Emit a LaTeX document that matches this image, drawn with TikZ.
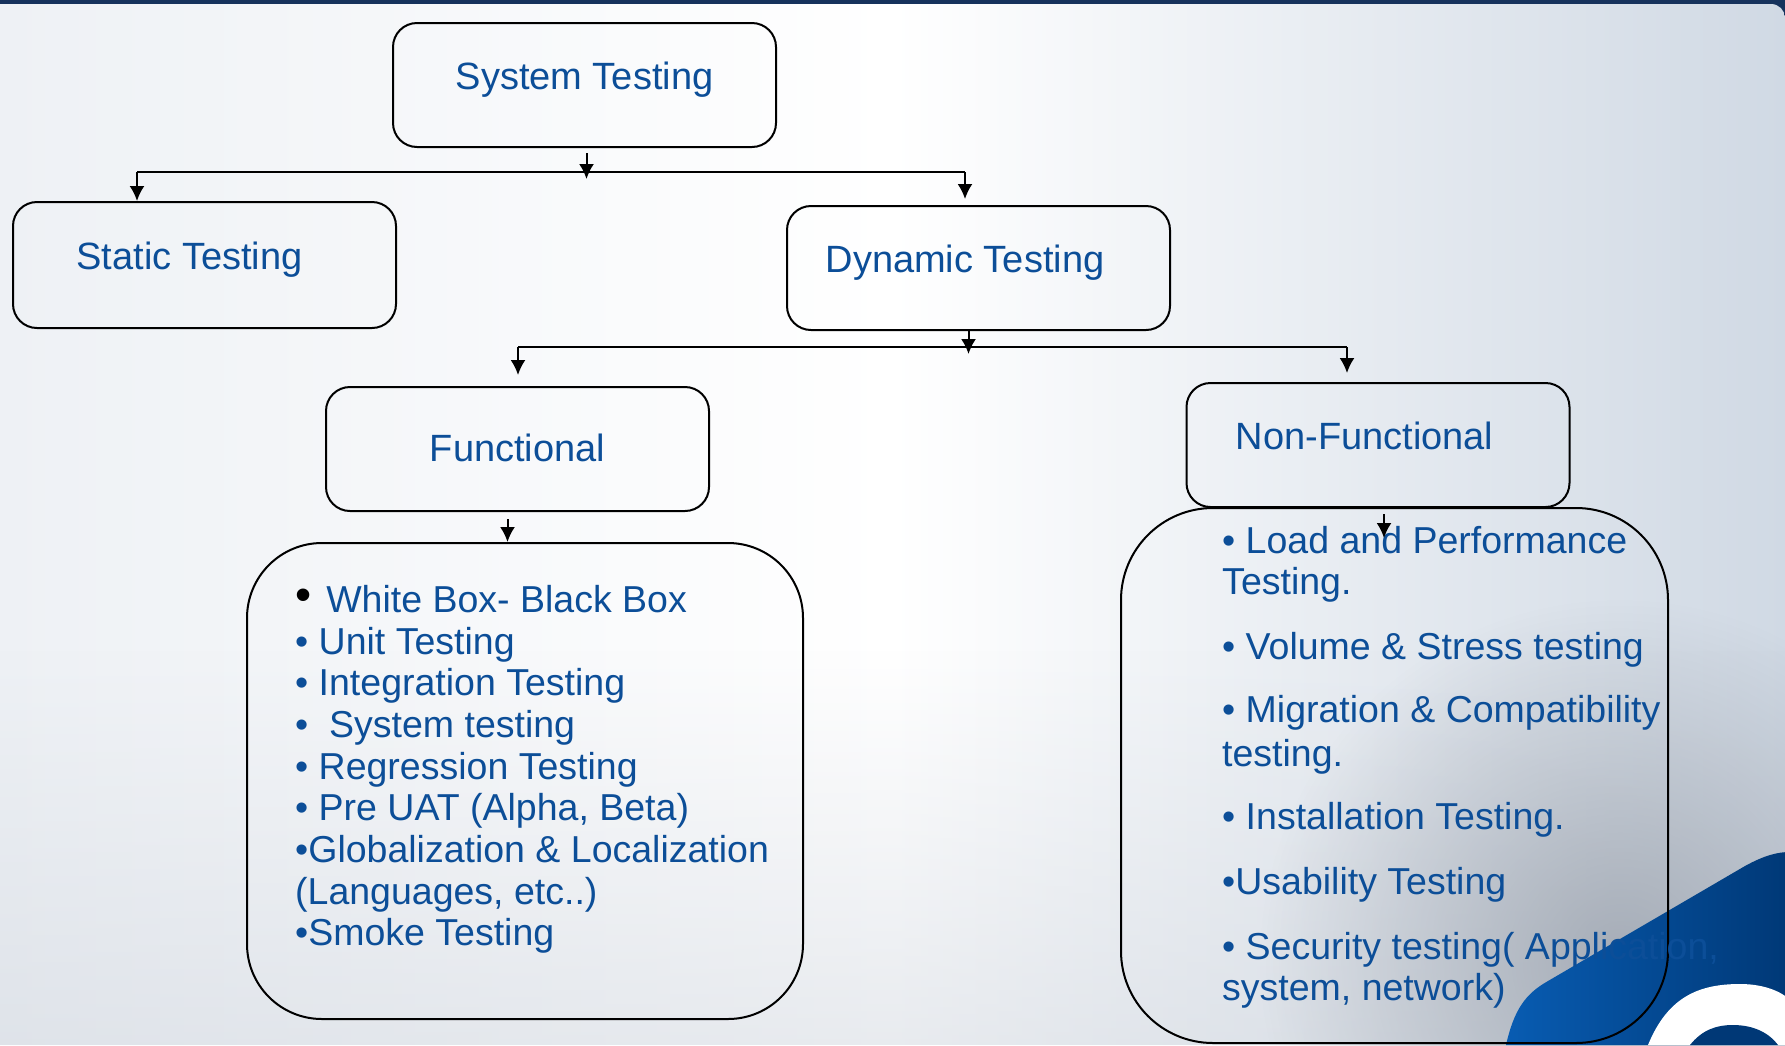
\documentclass[tikz,border=0pt]{standalone}
\usepackage{fontspec}
\setmainfont{Liberation Sans}
\usetikzlibrary{arrows.meta,fadings}

\definecolor{txtblue}{RGB}{12,78,152}
\definecolor{panelleft}{RGB}{238,241,245}
\definecolor{panelright}{RGB}{208,217,228}
\definecolor{panelbottom}{RGB}{205,211,220}
\definecolor{panelspot}{RGB}{150,157,168}
\definecolor{topbar}{RGB}{22,50,92}
\definecolor{logoblue}{RGB}{8,92,178}
\definecolor{logodark}{RGB}{0,56,118}
\tikzfading[name=softspot, inner color=transparent!25, outer color=transparent!100]
\tikzfading[name=upfade, top color=transparent!100, bottom color=transparent!55]

\begin{document}
\begin{tikzpicture}[x=1pt, y=-1pt, >={Latex[length=15pt,width=15pt]},
  box/.style={draw, line width=2pt, rounded corners=24pt, minimum width=383pt,
    minimum height=124pt, inner sep=0pt, text height=27pt, text depth=19pt,
    text=txtblue, font=\fontsize{38}{42}\selectfont},
  listbox/.style={draw, line width=2pt, inner sep=0pt},
  item/.style={anchor=base west, inner sep=0pt, text=txtblue,
    font=\fontsize{37.5}{41.5}\selectfont},
  link/.style={line width=2pt}]

\useasboundingbox (0,0) rectangle (1785,1045);

% background
\fill[topbar] (0,0) rectangle (1785,30);
\shade[left color=panelleft, right color=panelright, middle color=white]
  (0,4) -- (1771,4) arc[start angle=-90, end angle=0, radius=14] -- (1785,1045) -- (0,1045) -- cycle;
\fill[panelbottom, path fading=upfade] (0,650) rectangle (1785,1045);
\fill[panelspot, path fading=softspot] (1620,960) circle (360);

% logo corner
\begin{scope}
  \clip (0,0) rectangle (1785,1045);
  \shade[left color=logoblue, right color=logodark]
    (1506,1045) .. controls (1514,1010) and (1525,994) .. (1548,981) -- (1745,866)
    .. controls (1765,855) and (1778,852) .. (1790,852) -- (1790,1045) -- cycle;
  \fill[white] (1648,1045) .. controls (1668,996) and (1700,984) .. (1740,984)
    .. controls (1768,984) and (1785,994) .. (1792,1002) -- (1792,1045) -- cycle;
  \fill[logodark] (1690,1045) .. controls (1702,1030) and (1716,1025) .. (1733,1025)
    .. controls (1755,1025) and (1770,1034) .. (1778,1045) -- cycle;
\end{scope}

% boxes
\node[box] (sys) at (584.5,85) {System Testing};
\node[box, minimum height=126pt] (static) at (204.5,265) {Static Testing\hspace*{30pt}};
\node[box] (dynamic) at (978.5,268) {Dynamic Testing\hspace*{27pt}};
\node[box, text depth=3pt] (func) at (517.5,449) {Functional};
\node[box] (nonfunc) at (1378,445) {Non-Functional\hspace*{27pt}};

\node[listbox, rounded corners=75pt, minimum width=556pt, minimum height=476pt] (funclist) at (525,781) {};
\node[listbox, rounded corners=92pt, minimum width=547pt, minimum height=535pt] (nflist) at (1394.5,775.5) {};

% functional items
\foreach \txt/\yy [count=\n] in {
    {{\color{black}\fontsize{46}{46}\selectfont\raisebox{2pt}{•}}\hspace{15pt}White Box- Black Box}/612,
    • Unit Testing/654,
    • Integration Testing/695.5,
    •~~System testing/737,
    • Regression Testing/779,
    {• Pre UAT (Alpha, Beta)}/820.5,
    •Globalization \& Localization/862,
    {(Languages, etc..)}/904,
    •Smoke Testing/945.5}
  \node[item] (fl\n) at (295,\yy) {\txt};

% non-functional items
\foreach \txt/\yy [count=\n] in {
    • Load and Performance/553,
    Testing./594.5,
    • Volume \& Stress testing/659,
    • Migration \& Compatibility/722.5,
    testing./766,
    • Installation Testing./829.5,
    •Usability Testing/894.5,
    {• Security testing( Application,}/959,
    {system, network)}/1000.5}
  \node[item] (nl\n) at (1222,\yy) {\txt};

% first level
\coordinate (topL) at (137,172);
\coordinate (topR) at (965,172);
\draw[link] (topL) -- (topR);
\draw[link,->] ([xshift=2pt,yshift=-5pt]sys.south) -- ([xshift=2pt,yshift=-31pt]sys.south);
\draw[link,->] (topL) -- (topL |- static.north);
\draw[link,->] (topR) -- ([yshift=6pt]topR |- dynamic.north);

% second level
\coordinate (midL) at (518,347);
\coordinate (midR) at (1347,347);
\draw[link] (midL) -- (midR);
\draw[link,->] ([xshift=-10pt]dynamic.south) -- ([xshift=-10pt,yshift=-23pt]dynamic.south);
\draw[link,->] (midL) -- ([yshift=11pt]midL |- func.north);
\draw[link,->] (midR) -- ([yshift=9pt]midR |- nonfunc.north);

% lists
\draw[link,->] ([xshift=-10pt,yshift=-7pt]func.south) -- ([xshift=-10pt]func.south |- funclist.north);
\draw[link,->] ([xshift=6pt,yshift=-6pt]nonfunc.south) -- ([xshift=6pt,yshift=-30pt]nonfunc.south);

\end{tikzpicture}
\end{document}
